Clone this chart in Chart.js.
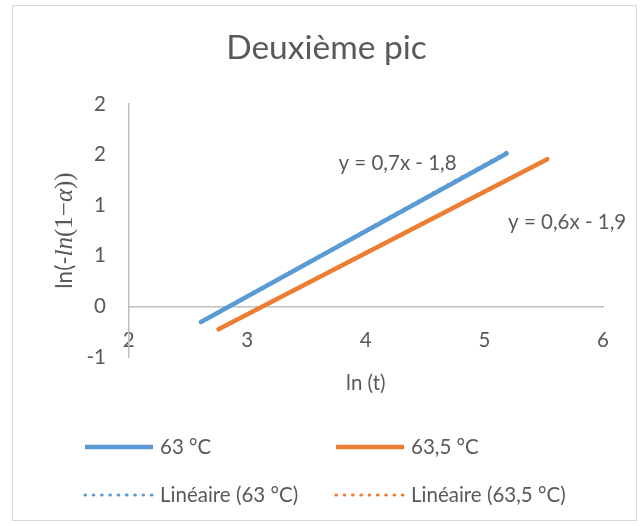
<!DOCTYPE html>
<html>
<head>
<meta charset="utf-8">
<script src="https://cdn.jsdelivr.net/npm/chart.js@4/dist/chart.umd.min.js"></script>
<style>
  html, body { margin: 0; padding: 0; background: #ffffff; }
  #frame { position: absolute; left: 12px; top: 5px; width: 625px; height: 516px;
           box-sizing: border-box; border: 1.5px solid #d9d9d9; }
  #c { position: absolute; left: 0; top: 0; }
</style>
</head>
<body>
<div id="frame"></div>
<canvas id="c" width="644" height="526"></canvas>
<script>
// Measured series: ln(t) against ln(-ln(1-alpha))
const seriesNames = ['63 °C', '63,5 °C'];
const lnT63 = [2.61, 5.188];
const val63 = [-0.155, 1.51];
const lnT635 = [2.758, 5.53];
const val635 = [-0.226, 1.455];

// Linear trendline coefficients (y = a·x + b)
const trendSlopes = [0.65, 0.607];
const trendIntercepts = [-1.849, -1.899];

// Axis ticks
const xTickValues = [2, 3, 4, 5, 6];
const yTickValues = [-0.5, 0, 0.5, 1, 1.5, 2];

const BLUE = '#5B9BD5';
const ORANGE = '#ED7D31';
const TEXT = '#595959';
const AXIS = '#BFBFBF';
const DOTS = [0.5, 7.8];

const toPoints = (xs, ys) => xs.map((x, i) => ({ x, y: ys[i] }));
const trendPoints = (xs, a, b) => [xs[0], xs[xs.length - 1]].map(x => ({ x, y: a * x + b }));
const decimalComma = v => v.toFixed(1).replace('.', ',');
const equationText = (a, b) => `y = ${decimalComma(a)}x ${b < 0 ? '-' : '+'} ${decimalComma(Math.abs(b))}`;
// Whole-number labels rounded half away from zero
const roundedLabel = v => (v < 0 ? '-' : '') + Math.round(Math.abs(v));

// Trendline equations written beside the lines
const equationLabels = {
  id: 'equationLabels',
  afterDatasetsDraw(chart, args, opts) {
    const { ctx, scales } = chart;
    ctx.save();
    ctx.font = '20.5px Lato';
    ctx.fillStyle = TEXT;
    ctx.textAlign = 'left';
    ctx.textBaseline = 'middle';
    opts.anchors.forEach((p, i) => {
      ctx.fillText(equationText(trendSlopes[i], trendIntercepts[i]),
        scales.x.getPixelForValue(p.x), scales.y.getPixelForValue(p.y));
    });
    ctx.restore();
  }
};

// Vertical axis title with italic math parts
const mathAxisTitle = {
  id: 'mathAxisTitle',
  afterDraw(chart, args, opts) {
    const { ctx, chartArea } = chart;
    const parts = opts.parts;
    ctx.save();
    let total = 0;
    parts.forEach(p => { ctx.font = p.font; p.w = ctx.measureText(p.text).width; total += p.w; });
    ctx.translate(opts.x, (chartArea.top + chartArea.bottom) / 2);
    ctx.rotate(-Math.PI / 2);
    ctx.fillStyle = TEXT;
    ctx.textBaseline = 'alphabetic';
    ctx.textAlign = 'left';
    let x = -total / 2;
    parts.forEach(p => { ctx.font = p.font; ctx.fillText(p.text, x, opts.baseline); x += p.w; });
    ctx.restore();
  }
};

// Two-column legend under the plot
const gridLegend = {
  id: 'gridLegend',
  afterDraw(chart, args, opts) {
    const { ctx } = chart;
    ctx.save();
    ctx.font = '20.5px Lato';
    ctx.textBaseline = 'middle';
    ctx.textAlign = 'left';
    chart.data.datasets.forEach((ds, i) => {
      const col = i % 2, row = Math.floor(i / 2);
      const x0 = opts.columns[col], y = opts.rows[row];
      ctx.strokeStyle = ds.borderColor;
      ctx.lineWidth = ds.borderDash ? 3.2 : 4.5;
      ctx.lineCap = ds.borderDash ? 'round' : 'butt';
      ctx.setLineDash(ds.borderDash || []);
      ctx.beginPath();
      ctx.moveTo(x0, y);
      ctx.lineTo(x0 + opts.sampleWidth, y);
      ctx.stroke();
      ctx.setLineDash([]);
      ctx.fillStyle = TEXT;
      ctx.fillText(ds.label, x0 + opts.sampleWidth + 7, y);
    });
    ctx.restore();
  }
};

const lineStyle = color => ({
  borderColor: color, backgroundColor: color, borderWidth: 4.5,
  showLine: true, pointRadius: 0, pointHoverRadius: 0, borderCapStyle: 'round', order: 0
});
const trendStyle = color => ({
  borderColor: color, backgroundColor: color, borderWidth: 3.2, borderDash: DOTS,
  borderCapStyle: 'round', showLine: true, pointRadius: 0, pointHoverRadius: 0, order: 1
});

new Chart(document.getElementById('c'), {
  type: 'scatter',
  data: {
    datasets: [
      { label: seriesNames[0], data: toPoints(lnT63, val63), ...lineStyle(BLUE) },
      { label: seriesNames[1], data: toPoints(lnT635, val635), ...lineStyle(ORANGE) },
      { label: `Linéaire (${seriesNames[0]})`, data: trendPoints(lnT63, trendSlopes[0], trendIntercepts[0]), ...trendStyle(BLUE) },
      { label: `Linéaire (${seriesNames[1]})`, data: trendPoints(lnT635, trendSlopes[1], trendIntercepts[1]), ...trendStyle(ORANGE) }
    ]
  },
  options: {
    responsive: false,
    animation: false,
    devicePixelRatio: 1,
    layout: { padding: { left: 50, right: 41, top: 0, bottom: 169 } },
    plugins: {
      legend: { display: false },
      tooltip: { enabled: false },
      title: {
        display: true, text: 'Deuxième pic', color: TEXT,
        font: { family: 'Lato', size: 33.5, weight: 'normal', lineHeight: 1.2 },
        padding: { top: 27.9, bottom: 35.9 }
      },
      equationLabels: { anchors: [{ x: 3.77, y: 1.41 }, { x: 5.2, y: 0.83 }] },
      mathAxisTitle: {
        x: 64, baseline: 8,
        parts: [
          { text: 'ln(-', font: '22.5px Lato' },
          { text: 'ln', font: 'italic 25px "Liberation Serif"' },
          { text: '(1−', font: '25px "Liberation Serif"' },
          { text: 'α', font: 'italic 25px "Liberation Serif"' },
          { text: '))', font: '25px "Liberation Serif"' }
        ]
      },
      gridLegend: { columns: [85, 336], rows: [447, 495], sampleWidth: 68 }
    },
    scales: {
      x: {
        type: 'linear', position: { y: 0 }, min: 2, max: 6,
        afterBuildTicks: s => { s.ticks = xTickValues.map(v => ({ value: v })); },
        ticks: { color: TEXT, padding: 21.3, font: { family: 'Lato', size: 20.5, lineHeight: 1.2 },
                 callback: v => String(v) },
        grid: { display: true, drawOnChartArea: false, drawTicks: false, color: 'rgba(0,0,0,0)' },
        border: { display: true, color: AXIS, width: 1.5 },
        title: { display: true, text: 'ln (t)', color: TEXT,
                 font: { family: 'Lato', size: 20.5, lineHeight: 1.2 }, padding: { top: -3, bottom: 0 } }
      },
      y: {
        type: 'linear', position: 'left', min: -0.5, max: 2,
        afterBuildTicks: s => { s.ticks = yTickValues.map(v => ({ value: v })); },
        afterFit: s => { s.width = 78.6; },
        ticks: { color: TEXT, padding: 22.6, font: { family: 'Lato', size: 20.5, lineHeight: 1.2 },
                 callback: v => roundedLabel(v) },
        grid: { display: true, drawOnChartArea: false, drawTicks: false, color: 'rgba(0,0,0,0)' },
        border: { display: true, color: AXIS, width: 1.5 }
      }
    }
  },
  plugins: [equationLabels, mathAxisTitle, gridLegend]
});
</script>
</body>
</html>
